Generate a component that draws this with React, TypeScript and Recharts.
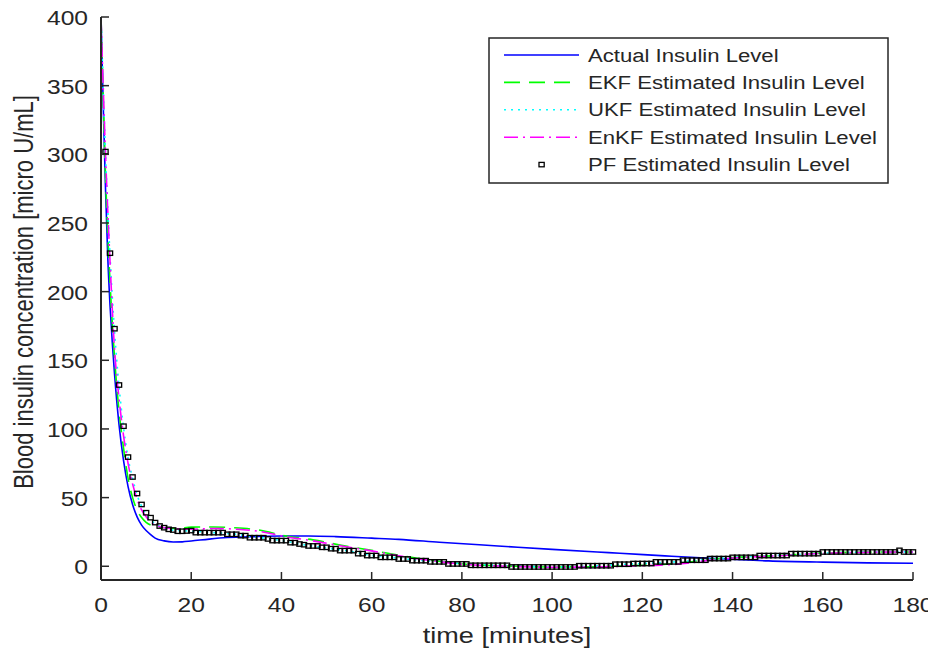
import React from 'react';
import { ComposedChart, Line, XAxis, YAxis } from 'recharts';

// axis ticks
const timeTicks = [0, 20, 40, 60, 80, 100, 120, 140, 160, 180];
const levelTicks = [0, 50, 100, 150, 200, 250, 300, 350, 400];

// actual insulin level (blue solid)
const actualTime = [0, 0.5, 1, 1.5, 2, 2.5, 3, 4, 5, 6, 7, 8, 9, 10, 11, 12, 14, 16, 18, 20, 24, 28, 34, 40, 46, 52, 60, 66, 75, 88, 100, 110, 115, 125, 135, 148, 160, 170, 180];
const actualLevel = [400, 335, 275, 225, 190, 163, 140, 103, 77, 58, 45, 36, 30, 26, 23, 20.5, 18.5, 17.7, 17.8, 18.4, 19.8, 20.9, 21.6, 22, 22, 21.6, 20.5, 19.6, 17.5, 14.8, 12.3, 10.4, 9.5, 7.6, 5.8, 3.9, 3, 2.5, 2.2];

// EKF estimate (green dashed)
const ekfTime = [0, 1, 2, 3, 4, 5, 6, 7, 8, 9, 10, 11, 12, 14, 17, 20, 25, 29, 35, 41, 47, 53, 60, 66, 74, 81, 90, 100, 110, 118, 124, 130, 135, 140, 150, 160, 170, 180];
const ekfLevel = [400, 285, 207, 152, 113, 86, 64, 50, 41, 35.5, 32, 30, 29, 28, 27.5, 28.5, 28.6, 28.1, 26.4, 22, 19.2, 15.5, 11.6, 8, 4, 1.5, 0.2, -0.5, -0.3, 0.5, 1.2, 3, 5, 6.3, 7.8, 9.6, 10.3, 10.4];

// UKF estimate (cyan dotted)
const ukfTime = [0, 1, 2, 3, 4, 5, 6, 7, 8, 10, 12, 14, 16, 20, 25, 30, 35, 40, 45, 50, 55, 60, 65, 70, 75, 80, 90, 100, 110, 115, 120, 125, 130, 135, 140, 150, 160, 170, 180];
const ukfLevel = [400, 300, 226, 171, 131, 101, 79, 64, 52, 38, 31, 28, 26.3, 25.6, 24.5, 23.3, 21, 18.8, 15.7, 13.3, 11, 8, 6.3, 4.5, 3.2, 1.9, 0.5, -0.5, 0.3, 1.3, 2, 2.8, 3.8, 5.2, 6.4, 7.9, 9.5, 10.4, 10.5];

// EnKF estimate (magenta dash-dot)
const enkfTime = [0, 1, 2, 3, 4, 5, 6, 7, 8, 9, 10, 11, 12, 14, 16, 20, 25, 30, 35, 41, 47, 53, 60, 66, 74, 81, 90, 100, 110, 118, 124, 130, 135, 140, 150, 160, 170, 180];
const enkfLevel = [400, 300, 222, 158, 122, 95, 75, 60, 49, 41, 36, 32, 30, 28, 27.5, 27, 27.5, 27, 25.5, 21.5, 18.5, 15, 11.2, 7.6, 3.8, 1.3, 0, -0.7, -0.5, 0.3, 0.8, 2.2, 4.5, 6, 7.6, 9.4, 10.2, 10.4];

// PF estimate, one sample per minute from t = 1 to t = 180
const pfLevel = [
  302, 228, 173, 132, 102, 79.5, 65, 53, 45, 39,
  35.4, 31.8, 29.3, 28.1, 26.9, 26.4, 25.5, 25.5, 25.7, 26,
  24.5, 24.5, 24.5, 24.5, 24.5, 24.5, 24.5, 23.3, 23.3, 23.3,
  22.3, 22.3, 20.8, 20.8, 20.8, 20.8, 19.9, 18.7, 18.7, 18.7,
  18.7, 17.2, 17.2, 16.2, 15.7, 14.8, 14.8, 14.8, 13.8, 13.8,
  12.8, 12.8, 11.4, 11.4, 11.4, 11.4, 9.2, 9.2, 7.8, 7.8,
  7.8, 6.5, 6.5, 6.5, 6.5, 5.3, 5.3, 5.3, 4.1, 4.1,
  4.1, 4.1, 3.2, 3.2, 3.2, 3.2, 1.7, 1.7, 1.7, 1.7,
  1.7, 0.7, 0.7, 0.7, 0.7, 0.7, 0.7, 0.7, 0.7, 0.7,
  -0.5, -0.5, -0.5, -0.5, -0.5, -0.5, -0.5, -0.5, -0.5, -0.5,
  -0.5, -0.5, -0.5, -0.5, -0.5, 0.4, 0.4, 0.4, 0.4, 0.4,
  0.4, 0.4, 0.4, 1.5, 1.5, 1.5, 1.5, 2, 2, 2,
  2, 2, 3.2, 3.2, 3.2, 3.2, 3.2, 3.2, 4.4, 4.4,
  4.4, 4.4, 4.4, 4.4, 5.6, 5.6, 5.6, 5.6, 5.6, 6.5,
  6.5, 6.5, 6.5, 6.5, 6.5, 7.8, 7.8, 7.8, 7.8, 7.8,
  7.8, 7.8, 9.2, 9.2, 9.2, 9.2, 9.2, 9.2, 9.2, 10.4,
  10.4, 10.4, 10.4, 10.4, 10.4, 10.4, 10.4, 10.4, 10.4, 10.4,
  10.4, 10.4, 10.4, 10.4, 10.4, 10.4, 11.6, 10.4, 10.4, 10.4,
];

const legendNames = [
  'Actual Insulin Level',
  'EKF Estimated Insulin Level',
  'UKF Estimated Insulin Level',
  'EnKF Estimated Insulin Level',
  'PF Estimated Insulin Level',
];

const toPoints = (ts: number[], vs: number[]) => ts.map((t, i) => ({ t, v: vs[i] }));
const pfPoints = pfLevel.map((v, i) => ({ t: i + 1, v }));

const FONT = '"Liberation Sans", Arial, Helvetica, sans-serif';
const INK = '#262626';
const STRETCH = 1.23; // the figure is a bit wider than tall text would suggest
const TICK_LEN = 8;

const BLUE = '#0000ff';
const GREEN = '#00ff00';
const CYAN = '#00ffff';
const MAGENTA = '#ff00ff';
const DASH = '16 9';
const DOT = '2 5';
const DASHDOT = '14 5 2 5';

const Label = ({ x, y, anchor, size, children }: any) => (
  <g transform={`translate(${x},${y}) scale(${STRETCH},1)`}>
    <text textAnchor={anchor} fontSize={size} fill={INK} fontFamily={FONT}>{children}</text>
  </g>
);

const BottomTick = ({ x, y, payload }: any) => (
  <g>
    <line x1={x} y1={y} x2={x} y2={y - TICK_LEN} stroke={INK} strokeWidth={1.5} />
    <Label x={x} y={y + 32} anchor="middle" size={20}>{payload.value}</Label>
  </g>
);

const LeftTick = ({ x, y, payload }: any) => (
  <g>
    <line x1={x} y1={y} x2={x + TICK_LEN} y2={y} stroke={INK} strokeWidth={1.5} />
    <Label x={x - 13} y={y + 8} anchor="end" size={20}>{payload.value}</Label>
  </g>
);

const TopTick = ({ x, y }: any) => (
  <line x1={x} y1={y} x2={x} y2={y + TICK_LEN} stroke={INK} strokeWidth={1.5} />
);

const RightTick = ({ x, y }: any) => (
  <line x1={x} y1={y} x2={x - TICK_LEN} y2={y} stroke={INK} strokeWidth={1.5} />
);

const PfSquare = (p: any) => (
  <rect key={p.index} x={p.cx - 2.6} y={p.cy - 2.2} width={5.2} height={4.4}
    fill="none" stroke="#000" strokeWidth={1.3} />
);

const InsulinLegend = () => {
  const rowY = (i: number) => 18 + i * 27.4;
  const styles = [
    { color: BLUE, dash: undefined },
    { color: GREEN, dash: DASH },
    { color: CYAN, dash: DOT },
    { color: MAGENTA, dash: DASHDOT },
  ];
  return (
    <svg width={401} height={147} style={{ position: 'absolute', left: 480, top: 29 }}>
      <rect x={1} y={1} width={399} height={145} fill="#fff" stroke={INK} strokeWidth={1.5} />
      {styles.map((s, i) => (
        <line key={i} x1={16} x2={91} y1={rowY(i)} y2={rowY(i)} stroke={s.color}
          strokeWidth={1.6} strokeDasharray={s.dash} />
      ))}
      <rect x={51} y={rowY(4) - 2.2} width={5.2} height={4.4} fill="none" stroke="#000" strokeWidth={1.3} />
      {legendNames.map((n, i) => (
        <Label key={n} x={100} y={rowY(i) + 6.5} anchor="start" size={18}>{n}</Label>
      ))}
    </svg>
  );
};

export default function App() {
  return (
    <div style={{ position: 'relative', width: 928, height: 640 }}>
      <ComposedChart width={928} height={640} margin={{ top: 9, right: 23, bottom: 0, left: 0 }}>
        <XAxis xAxisId="bottom" dataKey="t" type="number" domain={[0, 180]} ticks={timeTicks}
          interval={0} height={68} tickSize={0} tickMargin={0} tick={<BottomTick />}
          axisLine={{ stroke: INK, strokeWidth: 2 }}
          label={({ viewBox }: any) => (
            <Label x={viewBox.x + viewBox.width / 2} y={viewBox.y + 63} anchor="middle" size={22}>
              time [minutes]
            </Label>
          )} />
        <XAxis xAxisId="top" orientation="top" dataKey="t" type="number" domain={[0, 180]} ticks={timeTicks}
          interval={0} height={0} tickSize={0} tickMargin={0} tick={<TopTick />}
          axisLine={{ stroke: INK, strokeWidth: 2 }} />
        <YAxis yAxisId="left" type="number" domain={[-10, 400]} ticks={levelTicks} interval={0}
          width={93} tickSize={0} tickMargin={0} tick={<LeftTick />}
          axisLine={{ stroke: INK, strokeWidth: 2 }}
          label={() => (
            <g transform={`translate(25,284) scale(${STRETCH},1) rotate(-90)`}>
              <text textAnchor="middle" fontSize={22} fill={INK} fontFamily={FONT}>
                Blood insulin concentration [micro U/mL]
              </text>
            </g>
          )} />
        <YAxis yAxisId="right" orientation="right" type="number" domain={[-10, 400]} ticks={levelTicks}
          interval={0} width={0} tickSize={0} tickMargin={0} tick={<RightTick />}
          axisLine={{ stroke: INK, strokeWidth: 2 }} />

        <Line xAxisId="bottom" yAxisId="left" data={toPoints(actualTime, actualLevel)} dataKey="v"
          type="monotone" stroke={BLUE} strokeWidth={1.6} dot={false} isAnimationActive={false} />
        <Line xAxisId="bottom" yAxisId="left" data={toPoints(ekfTime, ekfLevel)} dataKey="v"
          type="monotone" stroke={GREEN} strokeWidth={1.6} strokeDasharray={DASH} dot={false} isAnimationActive={false} />
        <Line xAxisId="bottom" yAxisId="left" data={toPoints(ukfTime, ukfLevel)} dataKey="v"
          type="monotone" stroke={CYAN} strokeWidth={1.6} strokeDasharray={DOT} dot={false} isAnimationActive={false} />
        <Line xAxisId="bottom" yAxisId="left" data={toPoints(enkfTime, enkfLevel)} dataKey="v"
          type="monotone" stroke={MAGENTA} strokeWidth={1.6} strokeDasharray={DASHDOT} dot={false} isAnimationActive={false} />
        <Line xAxisId="bottom" yAxisId="left" data={pfPoints} dataKey="v"
          stroke="none" dot={PfSquare} activeDot={false} isAnimationActive={false} />
      </ComposedChart>
      <InsulinLegend />
    </div>
  );
}
